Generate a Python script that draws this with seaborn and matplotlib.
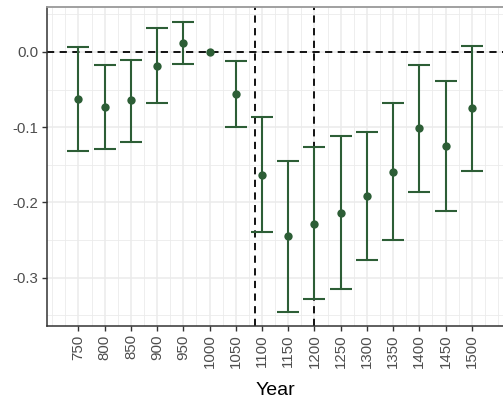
import matplotlib
matplotlib.use("Agg")
import matplotlib.pyplot as plt
import seaborn as sns
import numpy as np
import pandas as pd
from matplotlib.ticker import MultipleLocator

years = [750, 800, 850, 900, 950, 1000, 1050, 1100, 1150, 1200, 1250, 1300, 1350, 1400, 1450, 1500]
estimate = [-0.062, -0.0735, -0.064, -0.018, 0.012, 0.0, -0.056, -0.163, -0.245, -0.228, -0.2134, -0.191, -0.159, -0.1014, -0.1244, -0.0748]
lower = [-0.131, -0.129, -0.119, -0.068, -0.016, 0.0, -0.0996, -0.2395, -0.345, -0.329, -0.3147, -0.2766, -0.250, -0.1855, -0.211, -0.1585]
upper = [0.006, -0.0177, -0.010, 0.032, 0.040, 0.0, -0.0124, -0.0863, -0.145, -0.1266, -0.1116, -0.106, -0.068, -0.0168, -0.0385, 0.0084]
vlines_at = [1086, 1200]

df = pd.DataFrame({"Year": years, "est": estimate, "lo": lower, "hi": upper})

sns.set_theme(style="white")
plt.rcParams['font.family'] = ['Liberation Sans', 'DejaVu Sans']

green = "#2d5e36"
fig = plt.figure(figsize=(5.03, 4.0), dpi=100)
ax = fig.add_axes([0.094, 0.186, 0.906, 0.7965])

# grid
ax.set_axisbelow(True)
ax.xaxis.set_major_locator(MultipleLocator(50))
ax.xaxis.set_minor_locator(MultipleLocator(25))
ax.yaxis.set_major_locator(MultipleLocator(0.1))
ax.yaxis.set_minor_locator(MultipleLocator(0.05))
ax.grid(which="major", color="#ebebeb", linewidth=1.1)
ax.grid(which="minor", color="#ebebeb", linewidth=0.6)

ax.axhline(0, color="black", linestyle=(0, (4, 3)), linewidth=1.3, zorder=1)
for v in vlines_at:
    ax.axvline(v, color="black", linestyle=(0, (4, 3)), linewidth=1.3, zorder=1)

eb = df[df["lo"] != df["hi"]]
ax.errorbar(eb["Year"], eb["est"], yerr=[eb["est"] - eb["lo"], eb["hi"] - eb["est"]],
            fmt="none", ecolor=green, elinewidth=1.5, capsize=8.2, capthick=1.5, zorder=2)
sns.scatterplot(data=df, x="Year", y="est", color=green, s=36, edgecolor=green,
                linewidth=0, ax=ax, zorder=3)

ax.set_xlim(690.5, 1559.5)
ax.set_ylim(-0.3637, 0.0598)
ax.set_xticks(years)
ax.set_xticklabels([str(y) for y in years], rotation=90)
ax.set_yticks([0.0, -0.1, -0.2, -0.3])
ax.set_yticklabels(["0.0", "-0.1", "-0.2", "-0.3"])

ax.tick_params(axis="both", which="major", length=3.5, width=1, color="#333333",
               labelcolor="#4d4d4d", labelsize=10.8, pad=2.8, bottom=True, left=True)
ax.tick_params(which="minor", length=0)

for side in ["left", "bottom"]:
    ax.spines[side].set_color("#333333")
    ax.spines[side].set_linewidth(1.1)
ax.spines["top"].set_color("#999999")
ax.spines["top"].set_linewidth(1.3)
ax.spines["right"].set_visible(False)

ax.set_xlabel("Year", fontsize=14, color="black")
ax.xaxis.label.set_va("top")
ax.xaxis.set_label_coords(0.5, -0.177)
ax.set_ylabel("")

fig.savefig("out.png", dpi=100)
